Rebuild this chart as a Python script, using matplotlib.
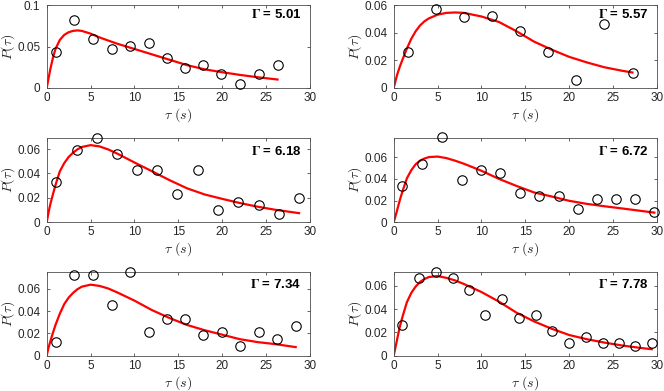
import matplotlib
matplotlib.use('Agg')
import matplotlib.pyplot as plt
from matplotlib.ticker import FuncFormatter

plt.rcParams['mathtext.fontset'] = 'cm'
plt.rcParams['font.family'] = ['Liberation Sans', 'DejaVu Sans']

# Gamma values shown in each panel
gammas = ['5.01', '5.57', '6.18', '6.72', '7.34', '7.78']

# measured histogram points (tau in s, P(tau))
tau1 = [1.03, 3.11, 5.28, 7.4, 9.5, 11.6, 13.7, 15.76, 17.8, 19.9, 22.0, 24.15, 26.3]
p1 = [0.0432, 0.082, 0.0588, 0.0472, 0.0512, 0.0548, 0.0356, 0.0236, 0.028, 0.0164, 0.0044, 0.0164, 0.028]

tau2 = [1.6, 4.82, 8.01, 11.2, 14.43, 17.58, 20.77, 24.0, 27.23]
p2 = [0.0259, 0.0569, 0.0516, 0.0521, 0.0415, 0.0259, 0.0055, 0.0463, 0.0108]

tau3 = [1.06, 3.46, 5.7, 7.98, 10.25, 12.6, 14.9, 17.24, 19.56, 21.84, 24.15, 26.47, 28.75]
p3 = [0.0333, 0.0592, 0.0693, 0.0559, 0.0428, 0.0428, 0.0232, 0.0428, 0.0101, 0.0169, 0.0139, 0.0071, 0.0202]

tau4 = [0.99, 3.23, 5.55, 7.79, 9.99, 12.15, 14.36, 16.52, 18.8, 21.0, 23.17, 25.33, 27.53, 29.7]
p4 = [0.0335, 0.0538, 0.0782, 0.0391, 0.0483, 0.0452, 0.0274, 0.0243, 0.0243, 0.0123, 0.0212, 0.0212, 0.0212, 0.0092]

tau5 = [1.06, 3.11, 5.28, 7.4, 9.5, 11.6, 13.67, 15.76, 17.85, 19.98, 22.03, 24.15, 26.28, 28.37]
p5 = [0.0119, 0.0722, 0.0722, 0.0454, 0.0752, 0.0209, 0.0328, 0.0328, 0.0182, 0.0209, 0.009, 0.0209, 0.0149, 0.0269]

tau6 = [0.95, 2.85, 4.82, 6.72, 8.55, 10.44, 12.34, 14.28, 16.22, 18.04, 19.94, 21.91, 23.81, 25.64, 27.53, 29.43]
p6 = [0.0267, 0.0672, 0.0724, 0.0672, 0.0563, 0.0347, 0.0485, 0.0322, 0.0347, 0.0215, 0.0106, 0.0161, 0.0106, 0.0106, 0.0083, 0.0106]

# fitted curves
grid = [0, 0.2, 0.4, 0.7, 1.0, 1.5, 2, 2.5, 3, 3.5, 4, 5, 6, 7, 8, 10, 12, 14, 16, 18, 20, 22, 24, 26]
fit_t1 = grid + [26.3]
fit_p1 = [0, 0.011, 0.022, 0.036, 0.047, 0.058, 0.064, 0.0672, 0.0688, 0.0694, 0.0688, 0.0655, 0.061, 0.0572,
          0.0535, 0.047, 0.0405, 0.034, 0.0275, 0.0225, 0.019, 0.0158, 0.013, 0.0106, 0.0102]
fit_t2 = grid + [27.2]
fit_p2 = [0, 0.005, 0.0098, 0.0155, 0.0205, 0.0285, 0.0355, 0.041, 0.0452, 0.0482, 0.0503, 0.053, 0.0543, 0.0546,
          0.0543, 0.0517, 0.0477, 0.041, 0.0335, 0.0277, 0.0225, 0.0185, 0.015, 0.0125, 0.0112]
fit_t3 = grid + [28.75]
fit_p3 = [0, 0.0078, 0.0145, 0.0227, 0.0305, 0.0418, 0.0485, 0.0535, 0.057, 0.0597, 0.0617, 0.0632, 0.0622, 0.0597,
          0.0564, 0.049, 0.0418, 0.0345, 0.0278, 0.0228, 0.0192, 0.0158, 0.0128, 0.0103, 0.0075]
fit_t4 = grid + [28, 29.7]
fit_p4 = [0, 0.0055, 0.0115, 0.0205, 0.0285, 0.0405, 0.048, 0.0535, 0.0568, 0.0588, 0.0601, 0.0606, 0.0592, 0.0568,
          0.054, 0.0475, 0.040, 0.0335, 0.0275, 0.0238, 0.0198, 0.017, 0.0148, 0.0128, 0.0107, 0.0089]
fit_t5 = grid + [28.37]
fit_p5 = [0, 0.007, 0.0125, 0.0202, 0.0275, 0.0377, 0.0462, 0.052, 0.0562, 0.0595, 0.0618, 0.0636, 0.0625, 0.0602,
          0.0568, 0.0493, 0.0408, 0.0337, 0.0275, 0.0228, 0.0188, 0.0148, 0.0122, 0.0104, 0.0077]
fit_t6 = grid + [28, 29.4]
fit_p6 = [0, 0.007, 0.0145, 0.025, 0.0335, 0.046, 0.054, 0.0595, 0.0635, 0.066, 0.0677, 0.0686, 0.067, 0.0648,
          0.0617, 0.0548, 0.0465, 0.037, 0.0295, 0.0232, 0.0178, 0.0142, 0.0113, 0.0088, 0.0068, 0.0056]

taus = [tau1, tau2, tau3, tau4, tau5, tau6]
ps = [p1, p2, p3, p4, p5, p6]
fit_ts = [fit_t1, fit_t2, fit_t3, fit_t4, fit_t5, fit_t6]
fit_ps = [fit_p1, fit_p2, fit_p3, fit_p4, fit_p5, fit_p6]
ymax = [0.1, 0.06, 0.0693, 0.078, 0.0752, 0.0723]
ystep = [0.05, 0.02, 0.02, 0.02, 0.02, 0.02]

W, H = 664, 391
fig = plt.figure(figsize=(W / 100, H / 100), dpi=100)

lefts = [46.7, 393.7]
width = 263.3
rows = [(5, 88), (137.7, 222.3), (271.7, 355.7)]
gamma_base = [13, 17, 16.5]   # px below axes top to text baseline

axc = '#262626'
for k in range(6):
    r, c = divmod(k, 2)
    top, bot = rows[r]
    h = bot - top
    ax = fig.add_axes([lefts[c] / W, 1 - bot / H, width / W, h / H])
    ax.plot(fit_ts[k], fit_ps[k], color='#ff0000', lw=1.6, zorder=2)
    ax.plot(taus[k], ps[k], 'o', mfc='none', mec='black', ms=6.8, mew=0.8, zorder=3, clip_on=False)
    ax.set_xlim(0, 30)
    ax.set_ylim(0, ymax[k])
    ax.set_xticks([0, 5, 10, 15, 20, 25, 30])
    yt = []
    v = 0.0
    while v <= ymax[k] + 1e-9:
        yt.append(round(v, 3))
        v += ystep[k]
    ax.set_yticks(yt)
    ax.yaxis.set_major_formatter(FuncFormatter(lambda val, pos: '%g' % val))
    ax.tick_params(direction='in', length=2.5, width=0.5, top=True, right=True,
                   labelsize=8.5, colors=axc)
    ax.tick_params(axis='y', pad=4.5)
    ax.tick_params(axis='x', pad=3)
    for s in ax.spines.values():
        s.set_linewidth(0.6)
        s.set_color('#4d4d4d')
    ax.set_xlabel(r'$\tau\ (s)$', fontsize=10, color=axc)
    ax.set_ylabel(r'$P(\tau)$', fontsize=10, color=axc)
    ax.xaxis.label.set_va('center')
    ax.yaxis.label.set_va('center')
    ax.xaxis.set_label_coords(0.5, -27 / h)
    ax.yaxis.set_label_coords(-38.5 / width, 0.5)
    ax.text(1 - 8.5 / width, 1 - gamma_base[r] / h, r'$\mathbf{\Gamma}$ = ' + gammas[k],
            transform=ax.transAxes, ha='right', va='baseline', fontsize=9.5, fontweight='bold',
            color='black', math_fontfamily='stix')

fig.savefig('out.png', dpi=100)
